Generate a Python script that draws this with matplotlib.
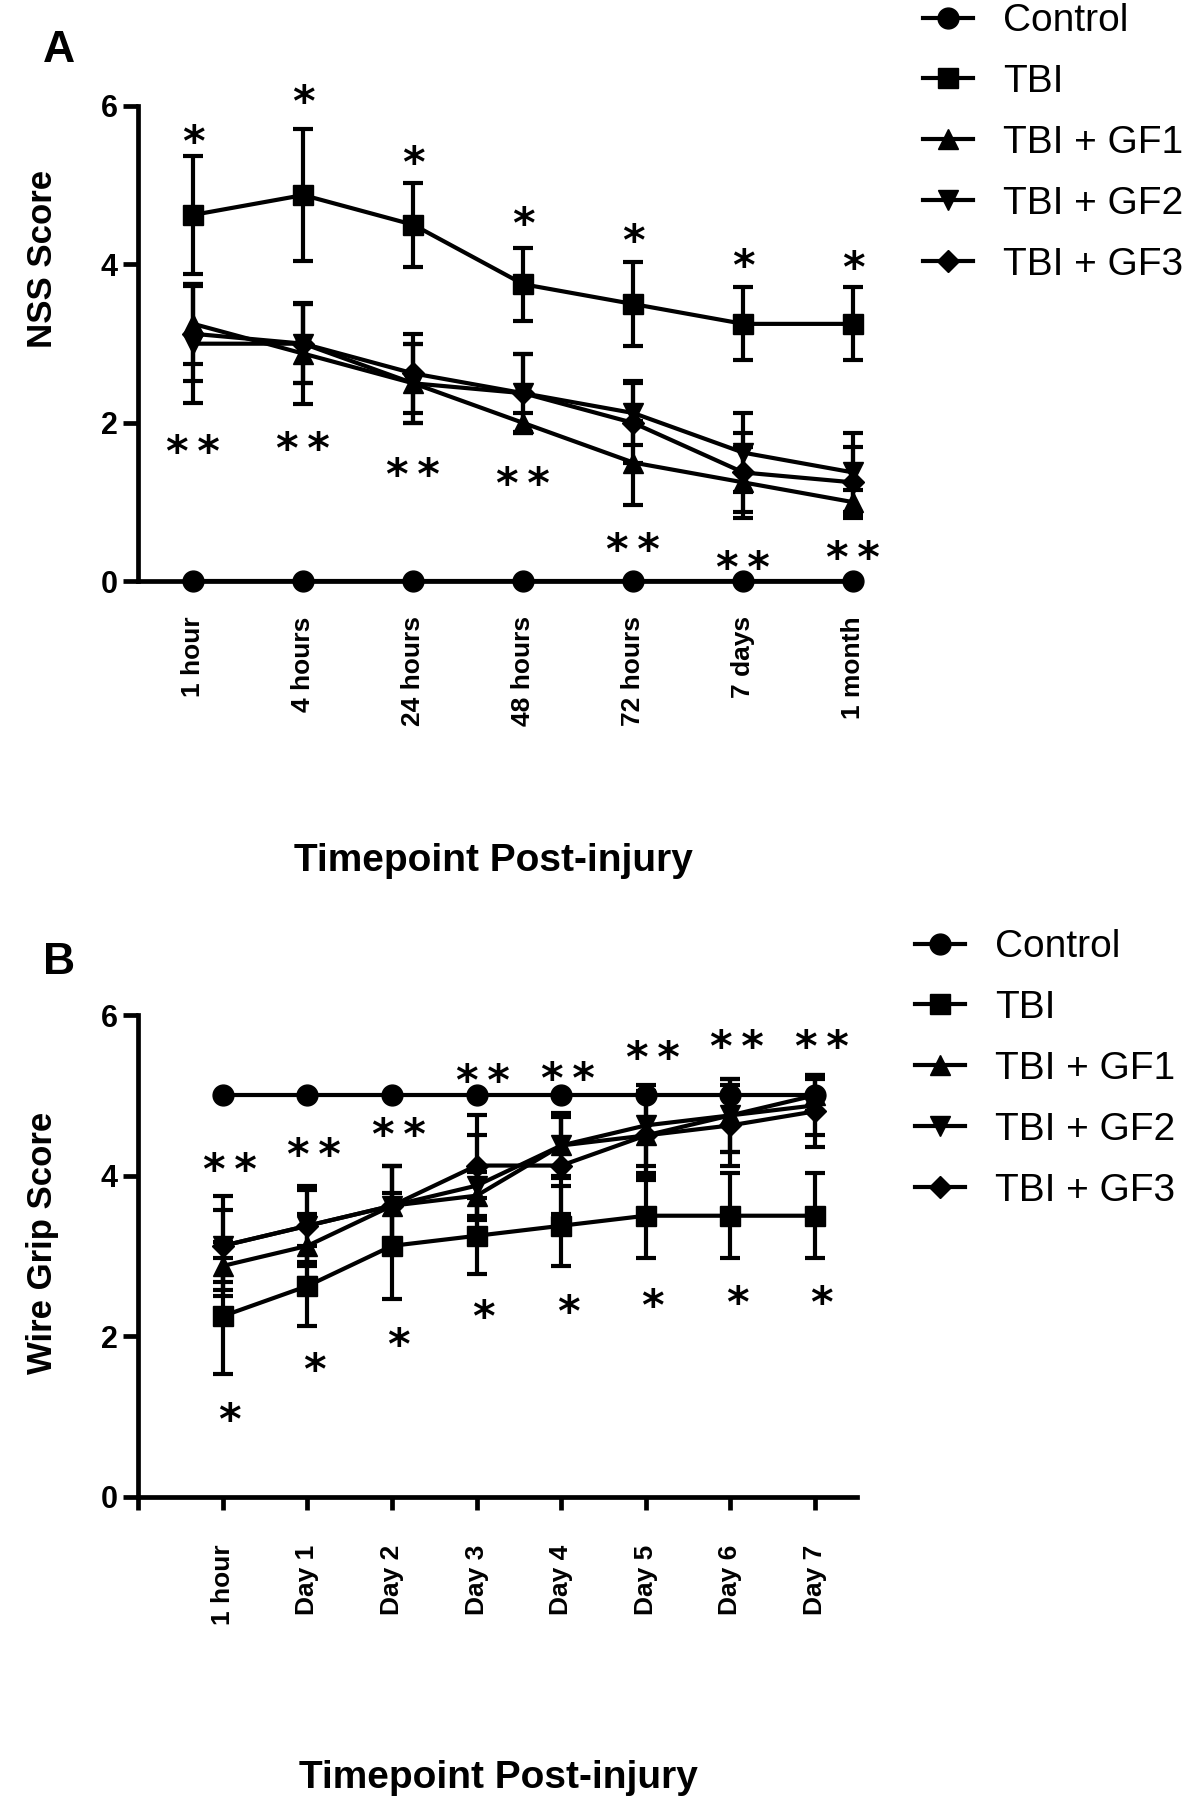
import matplotlib
matplotlib.use("Agg")
import matplotlib.pyplot as plt
import numpy as np

plt.rcParams['font.family'] = ['Liberation Sans', 'DejaVu Sans']

# ---- Panel A: NSS score ----
nss_times = ["1 hour", "4 hours", "24 hours", "48 hours", "72 hours", "7 days", "1 month"]
nss_control = [0, 0, 0, 0, 0, 0, 0]
nss_tbi = [4.625, 4.875, 4.5, 3.75, 3.5, 3.25, 3.25]
nss_tbi_err = [0.74, 0.83, 0.53, 0.46, 0.53, 0.46, 0.46]
nss_gf1 = [3.25, 2.875, 2.5, 2.0, 1.5, 1.25, 1.0]
nss_gf1_err = [0.5, 0.64, 0.5, 0.12, 0.53, 0.45, 0.15]
nss_gf2 = [3.0, 3.0, 2.5, 2.375, 2.125, 1.625, 1.375]
nss_gf2_err = [0.75, 0.5, 0.5, 0.5, 0.4, 0.5, 0.5]
nss_gf3 = [3.125, 3.0, 2.625, 2.375, 2.0, 1.375, 1.25]
nss_gf3_err = [0.6, 0.5, 0.5, 0.5, 0.5, 0.5, 0.45]
# significance marks (y position of the glyph centres)
nss_star_y = [5.65, 6.15, 5.38, 4.61, 4.39, 4.08, 4.05]
nss_dstar_y = [1.73, 1.77, 1.44, 1.33, 0.50, 0.27, 0.40]

# ---- Panel B: wire grip score ----
grip_times = ["1 hour", "Day 1", "Day 2", "Day 3", "Day 4", "Day 5", "Day 6", "Day 7"]
grip_control = [5, 5, 5, 5, 5, 5, 5, 5]
grip_tbi = [2.25, 2.625, 3.125, 3.25, 3.375, 3.5, 3.5, 3.5]
grip_tbi_err = [0.72, 0.5, 0.66, 0.47, 0.5, 0.53, 0.53, 0.53]
grip_gf1 = [2.875, 3.125, 3.625, 3.75, 4.375, 4.5, 4.75, 5.0]
grip_gf1_err = [0.3, 0.4, 0.5, 0.3, 0.4, 0.5, 0.45, 0.2]
grip_gf2 = [3.125, 3.375, 3.625, 3.875, 4.375, 4.625, 4.75, 4.875]
grip_gf2_err = [0.625, 0.5, 0.5, 0.625, 0.375, 0.5, 0.45, 0.375]
grip_gf3 = [3.125, 3.375, 3.625, 4.125, 4.125, 4.5, 4.625, 4.8]
grip_gf3_err = [0.45, 0.45, 0.5, 0.625, 0.6, 0.55, 0.5, 0.45]
grip_dstar_y = [4.17, 4.35, 4.60, 5.28, 5.30, 5.56, 5.70, 5.70]
grip_star_y = [1.05, 1.68, 1.99, 2.34, 2.40, 2.47, 2.51, 2.51]

group_names = ["Control", "TBI", "TBI + GF1", "TBI + GF2", "TBI + GF3"]
group_markers = ["o", "s", "^", "v", "D"]
group_ms = [15, 15, 15, 15, 11.5]

LW = 3.0
SPINE_W = 3.4
STAR_FS = 31


def put_stars(ax, x, y, text):
    # glyph sits high in the em box, so anchor on the baseline and drop it
    ax.annotate(text, (x, y), xytext=(0, -0.51 * STAR_FS), textcoords='offset points',
                ha='center', va='baseline', fontsize=STAR_FS, fontweight='bold',
                family='DejaVu Sans', annotation_clip=False)


def draw_panel(ax, times, series, errs, star_y, dstar_y, star_dx):
    x = np.arange(len(times))
    for vals, err, name, mk, ms in zip(series, errs, group_names, group_markers, group_ms):
        if err is not None:
            ax.errorbar(x, vals, yerr=err, fmt='none', ecolor='black',
                        elinewidth=LW, capsize=7, capthick=LW, clip_on=False, zorder=3)
        ax.plot(x, vals, color='black', lw=LW, marker=mk, ms=ms,
                label=name, clip_on=False, zorder=4)

    for xi, y in zip(x, star_y):
        put_stars(ax, xi + star_dx, y, "*")
    for xi, y in zip(x, dstar_y):
        put_stars(ax, xi + star_dx, y, "*\u2009*")

    ax.set_ylim(0, 6)
    ax.set_yticks([0, 2, 4, 6])
    ax.set_xticks(x)
    ax.set_xticklabels(times, rotation=90, fontweight='bold', fontsize=19)
    for lab in ax.get_yticklabels():
        lab.set_fontweight('bold')
    ax.tick_params(axis='y', labelsize=22, length=11, width=SPINE_W, pad=4)
    for side in ['top', 'right']:
        ax.spines[side].set_visible(False)
    for side in ['left', 'bottom']:
        ax.spines[side].set_linewidth(SPINE_W)


def add_legend(ax, fig, x0, yc):
    ax.legend(loc='center left', bbox_to_anchor=(x0, yc), bbox_transform=fig.transFigure,
              frameon=False, fontsize=28, handlelength=1.29, handletextpad=0.77,
              labelspacing=0.64, borderpad=0, borderaxespad=0)


fig = plt.figure(figsize=(11.82, 17.98), dpi=100)

# 1. Panel A
axA = fig.add_axes([0.117, 0.6766, 0.605, 0.2645])
draw_panel(axA, nss_times,
           [nss_control, nss_tbi, nss_gf1, nss_gf2, nss_gf3],
           [None, nss_tbi_err, nss_gf1_err, nss_gf2_err, nss_gf3_err],
           nss_star_y, nss_dstar_y, 0.0)
axA.set_xlim(-0.5, 6.0)
axA.tick_params(axis='x', length=0, pad=25)
axA.set_ylabel("NSS Score", fontsize=25, fontweight='bold', va='center')
axA.yaxis.set_label_coords(-0.134, 0.678)
axA.set_xlabel("Timepoint Post-injury", fontsize=28, fontweight='bold', va='center')
axA.xaxis.set_label_coords(0.496, -0.587)
add_legend(axA, fig, 0.781, 0.9205)

# 2. Panel B
axB = fig.add_axes([0.117, 0.16757, 0.6083, 0.2679])
draw_panel(axB, grip_times,
           [grip_control, grip_tbi, grip_gf1, grip_gf2, grip_gf3],
           [None, grip_tbi_err, grip_gf1_err, grip_gf2_err, grip_gf3_err],
           grip_star_y, grip_dstar_y, 0.08)
axB.set_xlim(-1.0, 7.5)
axB.set_xticks([-1.0], minor=True)
axB.tick_params(axis='x', which='both', length=9.5, width=SPINE_W, pad=25)
axB.set_ylabel("Wire Grip Score", fontsize=25, fontweight='bold', va='center')
axB.yaxis.set_label_coords(-0.1334, 0.527)
axB.set_xlabel("Timepoint Post-injury", fontsize=28, fontweight='bold', va='center')
axB.xaxis.set_label_coords(0.501, -0.584)
add_legend(axB, fig, 0.7741, 0.4055)

# 3. Panel letters
fig.text(59 / 1182, 1 - 50 / 1798, "A", fontsize=32, fontweight='bold', ha='center', va='center')
fig.text(59 / 1182, 1 - 963 / 1798, "B", fontsize=32, fontweight='bold', ha='center', va='center')

fig.savefig("out.png", dpi=100)
plt.close(fig)
